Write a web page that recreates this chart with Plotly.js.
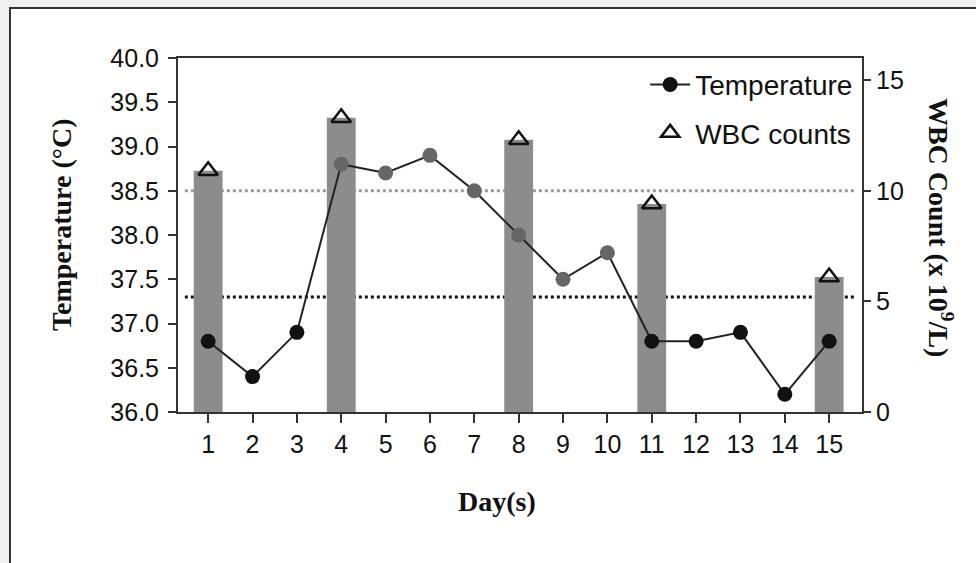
<!DOCTYPE html>
<html>
<head>
<meta charset="utf-8">
<script src="https://cdn.plot.ly/plotly-3.0.1.min.js"></script>
<style>
  html, body { margin: 0; padding: 0; background: #f0f0f0; width: 976px; height: 563px; overflow: hidden; }
  #frame { position: absolute; left: 9px; top: 7px; width: 967px; height: 556px; border-left: 2px solid #333; border-top: 2px solid #333; background: #fff; }
  #chart { width: 965px; height: 554px; }
</style>
</head>
<body>
<div id="frame"><div id="chart"></div></div>
<script>
// Data
const days = [1, 2, 3, 4, 5, 6, 7, 8, 9, 10, 11, 12, 13, 14, 15];
const temperature = [36.8, 36.4, 36.9, 38.8, 38.7, 38.9, 38.5, 38.0, 37.5, 37.8, 36.8, 36.8, 36.9, 36.2, 36.8];
const wbcDays = [1, 4, 8, 11, 15];
const wbcCounts = [10.9, 13.3, 12.3, 9.4, 6.1];
const tempTicks = [36.0, 36.5, 37.0, 37.5, 38.0, 38.5, 39.0, 39.5, 40.0];
const wbcTicks = [0, 5, 10, 15];
const feverLine = 38.5;
const normalLine = 37.3;

const tickFont = { family: 'Liberation Sans, Arial, sans-serif', size: 25, color: '#111' };
const titleFont = { family: 'Liberation Serif, Times New Roman, serif', size: 28, color: '#111' };
const markerColors = days.map(d => (d >= 4 && d <= 10) ? '#666' : '#111');

const traces = [
  {
    type: 'bar', x: wbcDays, y: wbcCounts, yaxis: 'y', width: 0.65,
    marker: { color: '#8c8c8c' }, showlegend: false, hoverinfo: 'skip'
  },
  {
    type: 'scatter', mode: 'lines+markers', name: 'Temperature', x: days, y: temperature, yaxis: 'y2',
    line: { color: '#222', width: 2 },
    marker: { symbol: 'circle', size: 15, color: markerColors },
    legendgroup: 'a', legendrank: 1
  },
  {
    type: 'scatter', mode: 'markers', name: 'WBC counts', x: wbcDays, y: wbcCounts, yaxis: 'y',
    marker: { symbol: 'triangle-up-open', size: 17, color: '#111', line: { width: 2.5, color: '#111' } },
    legendgroup: 'b', legendrank: 2
  }
];

const layout = {
  width: 965, height: 554,
  margin: { l: 167, r: 114, t: 49, b: 151 },
  paper_bgcolor: '#fff', plot_bgcolor: '#fff',
  showlegend: true,
  legend: {
    x: 0.683, y: 0.995, xanchor: 'left', yanchor: 'top',
    font: { family: 'Liberation Sans, Arial, sans-serif', size: 28, color: '#111' },
    bgcolor: 'rgba(0,0,0,0)', tracegroupgap: 9, traceorder: 'grouped', itemwidth: 40
  },
  xaxis: {
    range: [0.32, 15.74], tickvals: days, ticktext: days.map(String),
    showline: true, linecolor: '#333', linewidth: 2, mirror: true,
    ticks: 'outside', ticklen: 9, tickwidth: 2, tickcolor: '#333',
    showgrid: false, zeroline: false, tickfont: tickFont, ticklabelstandoff: 0
  },
  yaxis: {
    range: [0, 16], tickvals: wbcTicks, side: 'right',
    showline: true, linecolor: '#333', linewidth: 2,
    ticks: 'outside', ticklen: 7, tickwidth: 2, tickcolor: '#333',
    showgrid: false, zeroline: false, tickfont: tickFont
  },
  yaxis2: {
    range: [36, 40], tickvals: tempTicks, tickformat: '.1f', overlaying: 'y', side: 'left',
    showline: true, linecolor: '#333', linewidth: 2,
    ticks: 'outside', ticklen: 8, tickwidth: 2, tickcolor: '#333',
    showgrid: false, zeroline: false, tickfont: tickFont, ticklabelstandoff: 4
  },
  shapes: [
    { type: 'line', xref: 'paper', yref: 'y2', x0: 0.01, x1: 0.99, y0: feverLine, y1: feverLine,
      line: { color: '#9a9a9a', width: 3, dash: 'dot' }, layer: 'below' },
    { type: 'line', xref: 'paper', yref: 'y2', x0: 0.01, x1: 0.99, y0: normalLine, y1: normalLine,
      line: { color: '#111', width: 3, dash: 'dot' }, layer: 'below' }
  ],
  annotations: [
    { text: '<b>Temperature (°C)</b>', xref: 'paper', yref: 'paper', x: -0.17, y: 0.53,
      xanchor: 'center', yanchor: 'middle', textangle: -90, showarrow: false, font: titleFont },
    { text: '<b>WBC Count (x 10<sup>9</sup>/L)</b>', xref: 'paper', yref: 'paper', x: 1.114, y: 0.52,
      xanchor: 'center', yanchor: 'middle', textangle: 90, showarrow: false, font: titleFont },
    { text: '<b>Day(s)</b>', xref: 'paper', yref: 'paper', x: 0.466, y: -0.254,
      xanchor: 'center', yanchor: 'middle', showarrow: false, font: titleFont }
  ]
};

Plotly.newPlot('chart', traces, layout, { displayModeBar: false, staticPlot: true });
</script>
</body>
</html>
